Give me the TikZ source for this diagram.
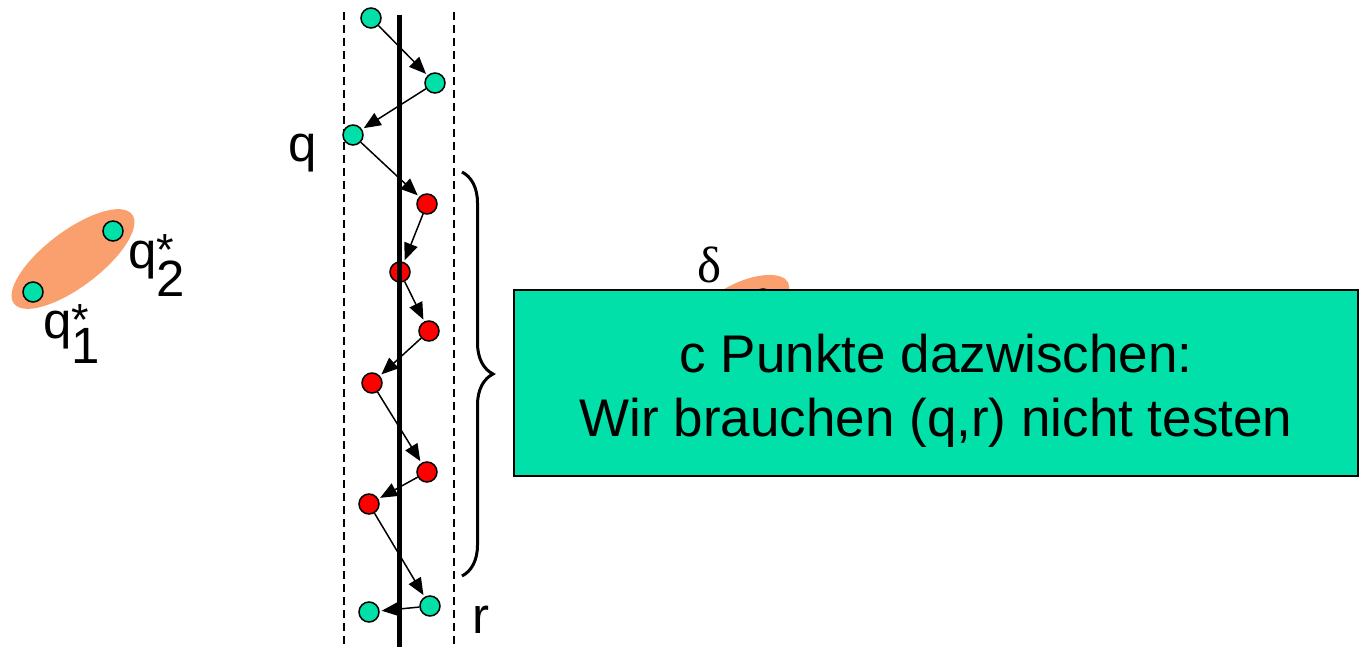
\documentclass[tikz,border=0pt]{standalone}
\usepackage{fontspec}
\setmainfont{Liberation Sans}
\newfontfamily\greekfont{Liberation Serif}
\usetikzlibrary{arrows.meta,decorations.pathreplacing}

\definecolor{ptgreen}{RGB}{0,224,168}
\definecolor{ptred}{RGB}{255,0,0}
\definecolor{blob}{RGB}{250,160,110}

\newcommand*{\ytop}{12}
\newcommand*{\ybot}{647}
\newcommand*{\xleft}{344}
\newcommand*{\xright}{454}
\newcommand*{\xmid}{399}

\begin{document}
\begin{tikzpicture}
[
	x=1pt, y=-1pt,
	greenpt/.style={circle,draw,fill=ptgreen,line width=1.5pt,inner sep=0pt,minimum size=20pt},
	redpt/.style={circle,draw,fill=ptred,line width=1.5pt,inner sep=0pt,minimum size=20pt},
	hop/.style={-{Triangle[length=17pt,width=14pt]},line width=1.5pt,shorten >=2pt},
	lbl/.style={font=\fontsize{51}{61}\selectfont,inner sep=0pt}
]

	\useasboundingbox (0,0) rectangle (1361,647);

	% pair on the left
	\fill[blob, rotate around={37:(73,259)}] (73,259) ellipse [x radius=74, y radius=28];
	\node[greenpt] at (33,292) (u1) {};
	\node[greenpt] at (113,231) (u2) {};
	\node[lbl,anchor=base west] at (43,338) (lu1) {q\rlap{\raisebox{3pt}{\fontsize{45}{45}\selectfont *}}\raisebox{-25pt}{1}};
	\node[lbl,anchor=base west] at (128,269) (lu2) {q\rlap{\raisebox{3pt}{\fontsize{45}{45}\selectfont *}}\raisebox{-28pt}{2}};

	% strip
	\draw[dashed,dash pattern=on 8pt off 5pt,line width=1.5pt] (\xleft,\ytop) -- (\xleft,\ybot);
	\draw[dashed,dash pattern=on 8pt off 5pt,line width=1.5pt] (\xright,\ytop) -- (\xright,\ybot);

	% points
	\node[greenpt] at (371,18) (s1) {};
	\node[greenpt] at (435,83) (s2) {};
	\node[greenpt] at (353,135) (q) {};
	\node[redpt] at (427,204) (c1) {};
	\node[redpt] at (400,272) (c2) {};
	\node[redpt] at (429,331) (c3) {};
	\node[redpt] at (372,383) (c4) {};
	\node[redpt] at (427,472) (c5) {};
	\node[redpt] at (369,504) (c6) {};
	\node[greenpt] at (430,606) (r) {};
	\node[greenpt] at (369,612) (e) {};

	\draw[line width=5pt] (\xmid,15) -- (\xmid,\ybot);

	% walk
	\draw[hop] (s1) -- (s2);
	\draw[hop] (s2) -- (q);
	\draw[hop] (q) -- (c1);
	\draw[hop] (c1) -- (c2);
	\draw[hop] (c2) -- (c3);
	\draw[hop] (c3) -- (c4);
	\draw[hop] (c4) -- (c5);
	\draw[hop] (c5) -- (c6);
	\draw[hop] (c6) -- (r);
	\draw[hop] (r) -- (e);

	\node[lbl,anchor=base] at (303,162) (lq) {q};
	\node[lbl,anchor=base] at (481,633) (lr) {r};

	% brace
	\draw[line width=3pt,decorate,decoration={brace,amplitude=31pt}] (462,172) -- (462,576);

	% pair under the box
	\node[font=\greekfont\fontsize{51}{61}\selectfont,anchor=base,inner sep=0pt] at (710,283) (ldelta) {δ};
	\fill[blob, rotate around={25:(743,304)}] (743,304) ellipse [x radius=50, y radius=22];
	\node[greenpt] at (763,299) (d1) {};

	% box
	\node[draw,fill=ptgreen,line width=2pt,minimum width=844pt,minimum height=186pt,inner sep=0pt] at (936,383) (note) {};
	\node[align=center,font=\fontsize{53}{64}\selectfont,inner sep=0pt] at ([yshift=-8pt]note.center) (msg) {c Punkte dazwischen:\\Wir brauchen (q,r) nicht testen};

\end{tikzpicture}
\end{document}
